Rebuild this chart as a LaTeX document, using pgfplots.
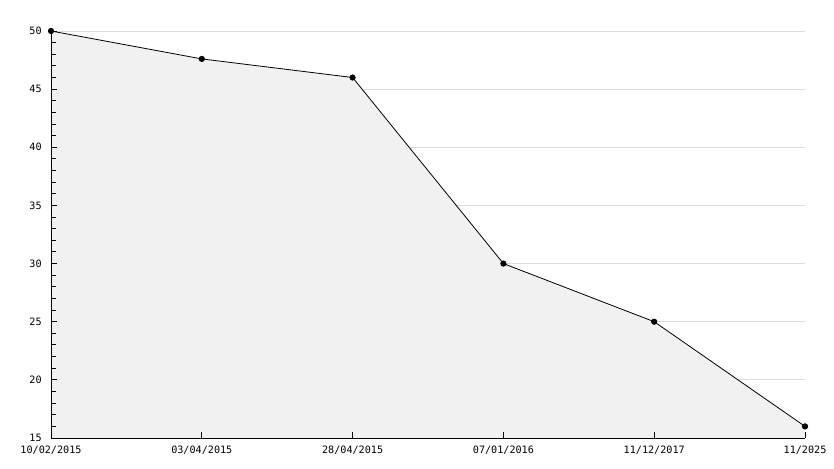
\documentclass[border=0pt]{standalone}
\usepackage{pgfplots}
\pgfplotsset{compat=1.18}
\usepackage{fontspec}
\setmainfont{DejaVu Sans Mono}
\definecolor{fillc}{HTML}{F1F1F1}
\definecolor{gridc}{HTML}{DCDCDC}
\begin{document}
\begin{tikzpicture}
\path (0pt,0pt) rectangle (625.5pt,351pt);
\begin{axis}[
  axis on top,
  at={(38.25pt,22.5pt)}, anchor=south west,
  width=565.5pt, height=305.25pt, scale only axis,
  xmin=0, xmax=5, ymin=15, ymax=50,
  axis x line*=bottom, axis y line*=left,
  axis line style={black, line width=0.75pt, -},
  xtick={0,1,2,3,4,5},
  xticklabels={10/02/2015,03/04/2015,28/04/2015,07/01/2016,11/12/2017,11/2025},
  ytick={15,20,25,30,35,40,45,50},
  minor y tick num=4,
  tick align=inside,
  major tick length=4.5pt, minor tick length=3.5pt,
  tick style={black, line width=0.75pt},
  tick label style={font=\fontsize{7.6}{8}\selectfont},
  /pgf/number format/assume math mode=true,
  yticklabel style={xshift=-3.5pt},
  xticklabel style={yshift=-2.5pt},
  clip=false,
]
\pgfplotsinvokeforeach{20,25,30,35,40,45,50}{
  \draw[gridc, line width=0.75pt] (axis cs:0,#1) -- (axis cs:5,#1);
}
\addplot[draw=none, fill=fillc] coordinates {(0,50) (1,47.6) (2,46) (3,30) (4,25) (5,16)} \closedcycle;
\addplot[black, line width=0.6pt, mark=*, mark size=2pt] coordinates {(0,50) (1,47.6) (2,46) (3,30) (4,25) (5,16)};
\end{axis}
\end{tikzpicture}
\end{document}
